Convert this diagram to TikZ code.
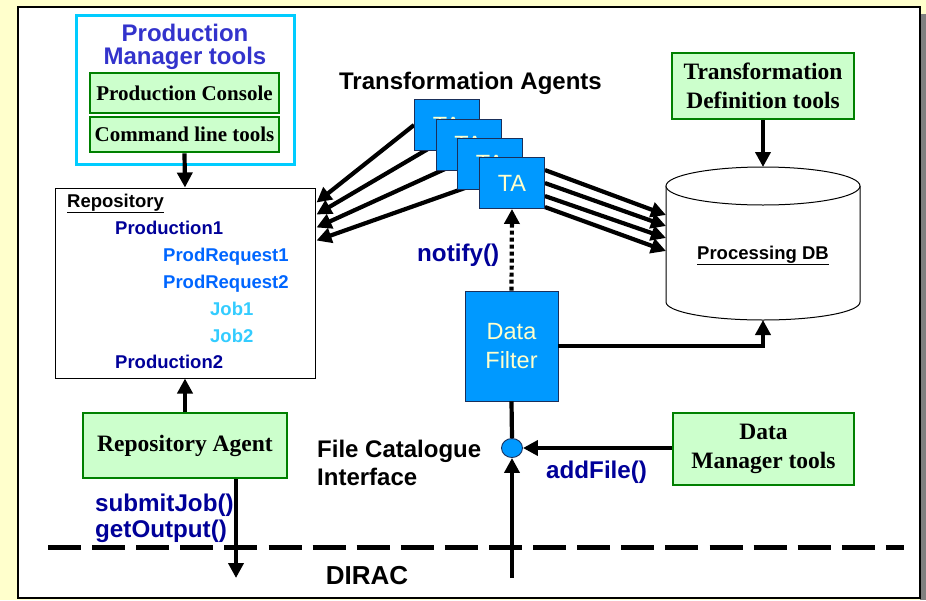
\documentclass[tikz,border=0pt]{standalone}
\usepackage{fontspec}
\setmainfont{Liberation Serif}
\setsansfont{Liberation Sans}
\usetikzlibrary{arrows.meta,shapes.geometric,calc}
\definecolor{cream}{HTML}{FFFFCC}
\definecolor{shadow}{HTML}{808080}
\definecolor{pmtcyan}{HTML}{00CCFF}
\definecolor{titleblue}{HTML}{3333CC}
\definecolor{boxgreen}{HTML}{008000}
\definecolor{boxfill}{HTML}{CCFFCC}
\definecolor{tablue}{HTML}{0099FF}
\definecolor{tanavy}{HTML}{1A2F5A}
\definecolor{tatext}{HTML}{FFFFCC}
\definecolor{darkblue}{HTML}{000099}
\definecolor{midblue}{HTML}{0066FF}
\definecolor{lightblue}{HTML}{33CCFF}
\pgfdeclarelayer{panel}
\pgfdeclarelayer{wires}
\pgfsetlayers{panel,wires,main}
\begin{document}
\begin{tikzpicture}[x=1pt,y=-1pt,
  arr/.style={line width=4.2pt,-{Triangle[length=15pt,width=15pt]}},
  plain/.style={line width=4.2pt},
  toolbox/.style={draw=boxgreen,fill=boxfill,line width=2.8pt,inner sep=0pt,align=center,
    font=\rmfamily\bfseries\fontsize{23.5}{29}\selectfont},
  agentbox/.style={draw=tanavy,fill=tablue,line width=0.9pt,inner sep=0pt,align=center,text=tatext,
    font=\sffamily\fontsize{23.5}{29}\selectfont},
  tabox/.style={agentbox,minimum width=65pt,minimum height=51pt},
  lbl/.style={inner sep=0pt,font=\sffamily\bfseries\fontsize{24}{28}\selectfont},
  call/.style={lbl,text=darkblue,align=left,font=\sffamily\bfseries\fontsize{24.2}{26}\selectfont},
  item/.style={inner sep=0pt,anchor=base west,font=\sffamily\bfseries\fontsize{18.5}{22}\selectfont}]

\useasboundingbox (0,0) rectangle (926,600);
% page background and panel
\begin{pgfonlayer}{panel}
\fill[cream] (0,0) rectangle (926,600);
\fill[shadow] (920,14) rectangle (926,600);
\draw[line width=1.5pt,fill=white] (18,7) rectangle (920,598);
\end{pgfonlayer}

% production manager tools
\node[draw=pmtcyan,line width=3pt,minimum width=218pt,minimum height=149pt,inner sep=0pt] (pmt) at (185,89.5) {};
\node[lbl,text=titleblue,align=center,font=\sffamily\bfseries\fontsize{24}{23}\selectfont] (pmttitle) at (185,47) {Production\\Manager tools};
\node[toolbox,minimum width=189pt,minimum height=40pt,font=\rmfamily\bfseries\fontsize{21}{24}\selectfont] (pcons) at (184.5,93) {Production Console};
\node[toolbox,minimum width=189pt,minimum height=35pt,font=\rmfamily\bfseries\fontsize{21}{24}\selectfont] (cmdl) at (184.5,134.5) {Command line tools};

% repository
\node[draw,line width=1pt,minimum width=260pt,minimum height=190pt,inner sep=0pt] (repo) at (185,283) {};
\node[item,text=black] (rtitle) at (67,207) {\underline{Repository}};
\node[item,text=darkblue] (prod1) at (115,234) {Production1};
\node[item,text=midblue] (preq1) at (163,261) {ProdRequest1};
\node[item,text=midblue] (preq2) at (163,288) {ProdRequest2};
\node[item,text=lightblue] (job1) at (210,315) {Job1};
\node[item,text=lightblue] (job2) at (210,342) {Job2};
\node[item,text=darkblue] (prod2) at (115,368) {Production2};

\node[toolbox,minimum width=204pt,minimum height=65pt] (ragent) at (185,445.5) {Repository Agent};

\draw[arr] (cmdl.south) -- (repo.north);
\draw[arr] (ragent.north) -- (repo.south);
\coordinate (raout) at (236,578);
\draw[arr] (ragent.south -| raout) -- (raout);
\node[call,anchor=north west] (rcalls) at (95,493.5) {submitJob()\\getOutput()};

% processing database
\coordinate (dbtop) at (763,167);
\coordinate (dbbot) at (763,320);
\coordinate (dbw) at (666,186);
\draw[line width=1pt,fill=white] (666,186) -- (666,302) arc[start angle=180,end angle=0,x radius=97,y radius=18] -- (860,186);
\draw[line width=1pt,fill=white] (763,186) ellipse[x radius=97,y radius=19];
\node[inner sep=0pt,anchor=base,font=\sffamily\bfseries\fontsize{18.5}{22}\selectfont] (dblbl) at (763,259) {\underline{Processing DB}};

\node[toolbox,minimum width=182pt,minimum height=66pt] (tdt) at (763,86) {Transformation\\Definition tools};
\draw[arr] (tdt.south) -- (dbtop);

% transformation agents, stacked
\node[lbl,anchor=base,font=\sffamily\bfseries\fontsize{24}{28}\selectfont] (tatitle) at (470.5,89) {Transformation Agents};
\node[tabox] (ta1) at (447,125) {TA};
\node[tabox] (ta2) at (468.5,144.5) {TA};
\node[tabox] (ta3) at (490,163.5) {TA};
\node[tabox] (ta4) at (512,183) {TA};

% agent connectors, kept beneath the agent boxes
\begin{pgfonlayer}{wires}
\draw[arr] (ta1.west) -- ($(repo.north east)+(1,15)$);
\draw[arr] (ta2.west) -- ($(repo.north east)+(1,27)$);
\draw[arr] (ta3.west) -- ($(repo.north east)+(1,40)$);
\draw[arr] (ta4.west) -- ($(repo.north east)+(1,53)$);
\draw[arr] ($(ta4.north east)+(0,13)$) -- ($(dbw)+(0,29)$);
\draw[arr] ($(ta4.north east)+(0,26)$) -- ($(dbw)+(0,40)$);
\draw[arr] ($(ta4.north east)+(0,39)$) -- ($(dbw)+(0,52)$);
\draw[arr] ($(ta4.north east)+(0,50)$) -- ($(dbw)+(0,65)$);
\end{pgfonlayer}

% data filter and file catalogue interface
\node[agentbox,minimum width=93pt,minimum height=110pt] (dfilter) at (511.5,346) {Data\\Filter};
\draw[line width=4.2pt,dash pattern=on 4pt off 3pt,-{Triangle[length=15pt,width=15pt]}] (dfilter.north) -- (ta4.south);
\node[call,anchor=base west] (notify) at (417,261) {notify()};
\draw[arr] (dfilter.east) -| (dbbot);

\node[ellipse,draw=tanavy,fill=tablue,line width=0.9pt,minimum width=21pt,minimum height=19pt,inner sep=0pt] (fci) at (512,448) {};
\draw[plain] (dfilter.south) -- (fci.north);
\coordinate (fcin) at (512,578);
\draw[arr] (fcin) -- (fci.south);
\node[lbl,align=left,anchor=north west] (fcilbl) at (317,439.5) {File Catalogue\\Interface};

\node[toolbox,minimum width=181pt,minimum height=72pt] (dmt) at (763.5,449) {Data\\Manager tools};
\draw[arr] (dmt.west |- fci) -- (fci.east);
\node[call,anchor=base west] (addfile) at (546,478) {addFile()};

% DIRAC boundary
\coordinate (dl) at (48,547.5);
\coordinate (dr) at (904,547.5);
\draw[line width=5pt,dash pattern=on 33pt off 11.1pt] (dl) -- (dr);
\node[lbl,anchor=base,font=\sffamily\bfseries\fontsize{26}{28}\selectfont] (dirac) at (367,584) {DIRAC};
\end{tikzpicture}
\end{document}
